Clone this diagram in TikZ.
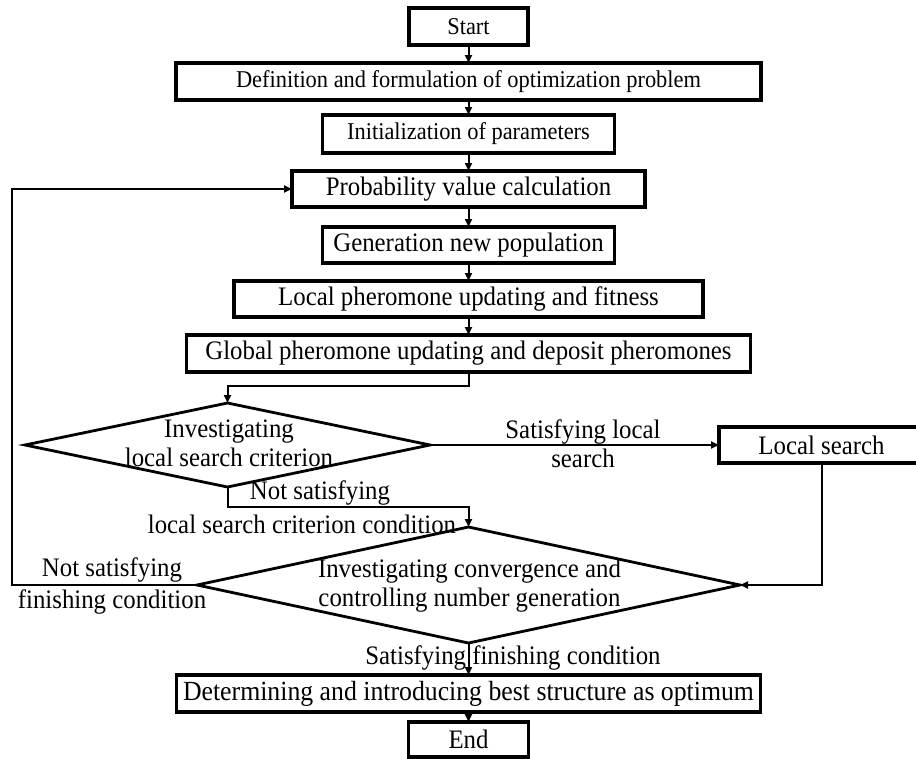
\documentclass[tikz,border=0pt]{standalone}
\usepackage{fontspec}
\setmainfont[FakeStretch=0.93]{Liberation Serif}
\usetikzlibrary{shapes.geometric,arrows.meta}
\tikzset{
 fn/.style={font=\fontsize{26.7}{29}\selectfont},
 fs/.style={font=\fontsize{24.1}{27}\selectfont},
 fb/.style={font=\fontsize{27.7}{30}\selectfont},
 box/.style={draw, line width=3.5pt, inner sep=0pt, outer sep=0pt, fn, minimum height=37pt},
 dia/.style={draw, diamond, line width=2.8pt, inner sep=0pt, outer sep=0pt},
 lbl/.style={fn, inner sep=0pt, align=center},
 arr/.style={line width=2pt, -{Triangle[length=8pt,width=7pt]}},
}
\begin{document}
\begin{tikzpicture}[x=1pt,y=-1pt]
\useasboundingbox (0,0) rectangle (916,758);
% main column
\node[box,fs,minimum width=119pt] (start) at (468.5,26.5) {Start};
\node[box,fs,minimum width=585pt] (def) at (468.5,81.5) {Definition and formulation of optimization problem};
\node[box,fs,minimum width=292pt,minimum height=38pt] (init) at (468.5,134) {Initialization of parameters};
\node[box,minimum width=353pt,minimum height=36pt] (prob) at (468.5,189) {Probability value calculation};
\node[box,minimum width=292pt,minimum height=36pt] (gen) at (468.5,245) {Generation new population};
\node[box,minimum width=469pt,minimum height=36pt] (lp) at (468.5,299) {Local pheromone updating and fitness};
\node[box,minimum width=564pt] (glob) at (468.5,353.5) {Global pheromone updating and deposit pheromones};
% decisions
\node[dia,minimum width=405pt,minimum height=84pt] (d1) at (227.5,445) {};
\node[lbl] (d1t) at (229,443) {Investigating\\local search criterion};
\node[box,minimum width=205pt,minimum height=36pt] (ls) at (821.5,445) {Local search};
\node[dia,minimum width=543pt,minimum height=116pt] (d2) at (468.5,585) {};
\node[lbl] (d2t) at (469.5,586) {Investigating convergence and\\controlling number generation};
% final
\node[box,fb,minimum width=584pt] (det) at (468.5,693.5) {Determining and introducing best structure as optimum};
\node[box,minimum width=120pt,minimum height=35pt] (end) at (468.5,739.5) {End};
% labels
\node[lbl] (l1) at (583,443.5) {Satisfying local\\search};
\node[lbl] (l2) at (320,493) {Not satisfying};
\node[lbl] (l3) at (302,524) {local search criterion condition};
\node[lbl] (l4) at (112,586) {Not satisfying\\[3pt]finishing condition};
\node[lbl] (l5) at (513,658) {Satisfying finishing condition};
% helper coordinates
\coordinate (e1) at (468.5,386);
\coordinate (e2) at (227.5,507);
\coordinate (e3) at (12,585);
% connectors
\draw[arr] (start) -- (def);
\draw[arr] (def) -- (init);
\draw[arr] (init) -- (prob);
\draw[arr] (prob) -- (gen);
\draw[arr] (gen) -- (lp);
\draw[arr] (lp) -- (glob);
\draw[arr] (glob.south) -- (e1) -| (d1.north);
\draw[arr] (d1.east) -- (ls.west);
\draw[arr] (d1.south) -- (e2) -| (d2.north);
\draw[arr] (ls.south) |- (d2.east);
\draw[arr] (d2.west) -- (e3) |- (prob.west);
\draw[arr] (d2.south) -- (det.north);
\draw[arr] (det) -- (end);
\end{tikzpicture}
\end{document}
